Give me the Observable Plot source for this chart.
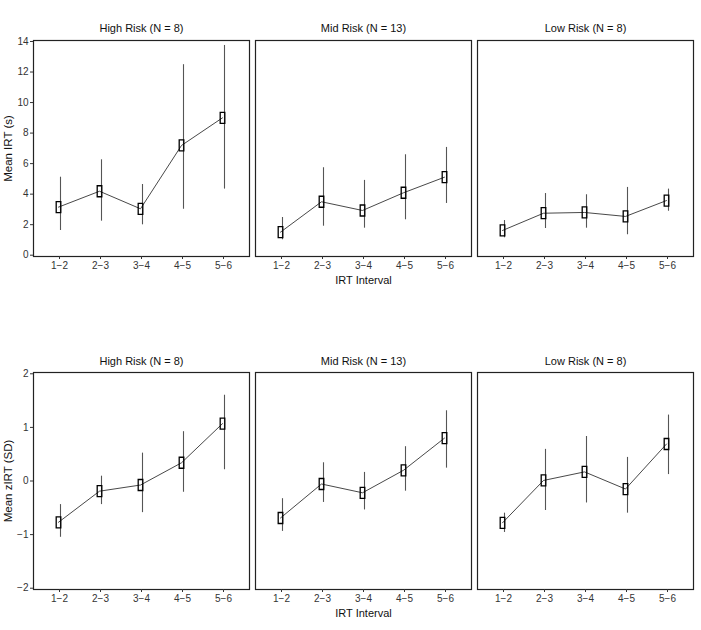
<!DOCTYPE html>
<html><head><meta charset="utf-8">
<script src="https://cdn.jsdelivr.net/npm/d3@7"></script>
<script src="https://cdn.jsdelivr.net/npm/@observablehq/plot@0.6"></script>
<style>
body{margin:0;background:#fff;}
#chart{width:701px;}
#chart svg{display:block;}
</style></head><body><div id="chart"></div>
<script>
const intervals = ["1−2", "2−3", "3−4", "4−5", "5−6"];
const groups = ["High Risk (N = 8)", "Mid Risk (N = 13)", "Low Risk (N = 8)"];
const topTicks = [0, 2, 4, 6, 8, 10, 12, 14];
const bottomTicks = [-2, -1, 0, 1, 2];

// Mean IRT (s)
const irtHighMean = [3.15, 4.19, 3.04, 7.19, 9.00];
const irtHighLo   = [1.62, 2.23, 1.99, 3.01, 4.33];
const irtHighHi   = [5.11, 6.25, 4.63, 12.48, 13.74];
const irtMidMean  = [1.51, 3.50, 2.93, 4.09, 5.11];
const irtMidLo    = [1.01, 1.90, 1.77, 2.32, 3.39];
const irtMidHi    = [2.47, 5.73, 4.90, 6.58, 7.06];
const irtLowMean  = [1.62, 2.75, 2.80, 2.54, 3.58];
const irtLowLo    = [1.14, 1.75, 1.77, 1.34, 2.88];
const irtLowHi    = [2.27, 4.04, 3.96, 4.44, 4.33];

// Mean zIRT (SD)
const zHighMean = [-0.77, -0.19, -0.075, 0.34, 1.07];
const zHighLo   = [-1.05, -0.44, -0.59, -0.21, 0.21];
const zHighHi   = [-0.44, 0.09, 0.52, 0.92, 1.60];
const zMidMean  = [-0.69, -0.056, -0.22, 0.20, 0.80];
const zMidLo    = [-0.94, -0.40, -0.54, -0.19, 0.24];
const zMidHi    = [-0.33, 0.34, 0.16, 0.64, 1.31];
const zLowMean  = [-0.78, 0.01, 0.17, -0.15, 0.69];
const zLowLo    = [-0.96, -0.55, -0.41, -0.60, 0.12];
const zLowHi    = [-0.60, 0.59, 0.83, 0.44, 1.23];

function rows(sets) {
  const out = [];
  sets.forEach(([means, los, his], gi) => {
    intervals.forEach((iv, i) => out.push({group: groups[gi], interval: iv, mean: means[i], lo: los[i], hi: his[i]}));
  });
  return out;
}
const irtData = rows([[irtHighMean, irtHighLo, irtHighHi], [irtMidMean, irtMidLo, irtMidHi], [irtLowMean, irtLowLo, irtLowHi]]);
const zData = rows([[zHighMean, zHighLo, zHighHi], [zMidMean, zMidLo, zMidHi], [zLowMean, zLowLo, zLowHi]]);

const rectSymbol = {draw(ctx) { ctx.moveTo(-2.3, -5.5); ctx.lineTo(2.3, -5.5); ctx.lineTo(2.3, 5.5); ctx.lineTo(-2.3, 5.5); ctx.closePath(); }};
const fmt = d => d < 0 ? "−" + Math.abs(d) : String(d);
const font = "'Liberation Sans', Arial, Helvetica, sans-serif";

function panel({data, yDomain, yTicks, yLabel, height, marginTop, marginBottom, titlePad}) {
  return Plot.plot({
    width: 701, height, marginLeft: 33, marginRight: 7, marginTop, marginBottom,
    style: {fontFamily: font, fontSize: "10px", color: "#333", background: "#fff", overflow: "visible"},
    fx: {domain: groups, paddingInner: 0.026, paddingOuter: 0, label: null},
    x: {type: "point", domain: intervals, padding: 0.6, label: null},
    y: {domain: yDomain, label: null},
    marks: [
      Plot.frame({stroke: "#222", strokeWidth: 1.2}),
      Plot.axisFx({anchor: "top", tickSize: 0, tickPadding: titlePad, fontSize: 11, fill: "#111", label: null}),
      Plot.axisY({ticks: yTicks, tickSize: 3, tickPadding: 2, tickFormat: fmt, label: null, stroke: "#333", fill: "#333"}),
      Plot.axisX({tickSize: 3, tickPadding: 2, label: null, stroke: "#333", fill: "#333"}),
      Plot.text([yLabel], {fx: [groups[0]], text: d => d, frameAnchor: "left", textAnchor: "middle", lineAnchor: "middle", rotate: -90, dx: -25.5, fontSize: 11.5, fill: "#111"}),
      Plot.text(["IRT Interval"], {fx: [groups[1]], text: d => d, frameAnchor: "bottom", dy: 27, fontSize: 11, fill: "#111"}),
      Plot.ruleX(data, {fx: "group", x: "interval", y1: "lo", y2: "hi", stroke: "#555", strokeWidth: 1.1, dx: 1}),
      Plot.line(data, {fx: "group", x: "interval", y: "mean", z: "group", stroke: "#333", strokeWidth: 0.9, dx: -1}),
      Plot.dot(data, {fx: "group", x: "interval", y: "mean", symbol: rectSymbol, r: 3, stroke: "#000", strokeWidth: 1.3, fill: "none", dx: -1})
    ]
  });
}

const chart = document.getElementById("chart");
chart.append(panel({data: irtData, yDomain: [-0.085, 14.065], yTicks: topTicks, yLabel: "Mean IRT (s)", height: 300, marginTop: 40, marginBottom: 44, titlePad: 9}));
chart.append(panel({data: zData, yDomain: [-2.024, 2.024], yTicks: bottomTicks, yLabel: "Mean zIRT (SD)", height: 330, marginTop: 72, marginBottom: 41, titlePad: 8}));
</script></body></html>
